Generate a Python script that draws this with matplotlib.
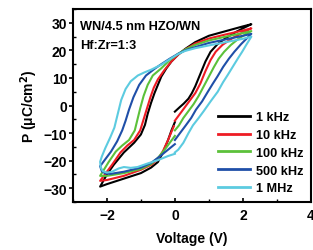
import matplotlib.pyplot as plt
from matplotlib.ticker import MultipleLocator

labels = ['1 kHz', '10 kHz', '100 kHz', '500 kHz', '1 MHz']
colors = ['#000000', '#ee1c24', '#5cc13a', '#1f4fa8', '#5ccbe0']

# each loop: start at 0 V -> +Vmax, upper branch -> -Vmax, lower branch -> 0 V
v_1k = [0, 0.15, 0.26, 0.4, 0.5, 0.6, 0.75, 0.9, 1.05, 1.25, 1.5, 1.8, 2.05, 2.25,
        2.0, 1.5, 1.0, 0.6, 0.3, 0.1, -0.1, -0.25, -0.4, -0.5, -0.6, -0.7, -0.8,
        -0.88, -1.0, -1.2, -1.5, -1.8, -2.0, -2.2,
        -2.0, -1.5, -1.0, -0.7, -0.5, -0.35, -0.2, -0.1, 0]
p_1k = [-2.2, -0.5, 0.7, 2.5, 4.5, 7, 11.5, 16, 19.5, 22.2, 24.5, 26.7, 28.3, 29.5,
        28.7, 27, 25.3, 23, 20.5, 18.5, 16, 13.5, 10.5, 7.5, 4.5, 1, -3,
        -7, -10.5, -13.5, -17, -21.5, -25, -29.4,
        -28.5, -26.5, -24.5, -22.5, -20.5, -17, -12.5, -9, -6]

v_10k = [0, 0.15, 0.3, 0.45, 0.6, 0.75, 0.9, 1.05, 1.2, 1.4, 1.7, 2.0, 2.25,
         2.0, 1.5, 1.0, 0.6, 0.3, 0.1, -0.1, -0.3, -0.5, -0.62, -0.72, -0.82,
         -0.92, -1.02, -1.2, -1.4, -1.6, -1.85, -2.0, -2.2,
         -2.0, -1.5, -1.0, -0.7, -0.5, -0.35, -0.2, -0.1, -0.03]
p_10k = [-5.5, -3, -0.5, 2, 4.5, 8, 12.5, 16.5, 19.5, 22, 24.5, 26.5, 28,
         27.2, 25.8, 24.3, 22.5, 20.3, 18.5, 16, 13, 9.5, 6.5, 3, -1,
         -5, -9, -12.5, -14.5, -17, -21.5, -24, -27.3,
         -27, -25.5, -23.3, -21.5, -19.5, -16.5, -12.5, -9.5, -7.5]

v_100k = [0, 0.12, 0.25, 0.4, 0.55, 0.7, 0.85, 1.0, 1.15, 1.29, 1.45, 1.65, 1.9, 2.25,
          2.0, 1.5, 1.0, 0.6, 0.3, 0.1, -0.15, -0.4, -0.65, -0.8, -0.92, -1.02,
          -1.1, -1.18, -1.35, -1.55, -1.74, -1.95, -2.2,
          -2.0, -1.5, -1.0, -0.7, -0.5, -0.3, -0.15, 0]
p_100k = [-9, -7.2, -4.5, -2, 0.5, 3.5, 7, 10.5, 14, 17, 19.5, 22, 24.5, 27,
          26.3, 25, 23.6, 22, 20.3, 18.8, 16.5, 13.5, 10.9, 7.5, 3.5, -1,
          -5, -9, -12.5, -14.5, -16.7, -20.5, -25.5,
          -25.5, -24.5, -23, -21.2, -19, -16, -13.5, -11]

v_500k = [0, 0.15, 0.32, 0.48, 0.62, 0.8, 0.97, 1.12, 1.25, 1.42, 1.59, 1.75, 1.95, 2.25,
          2.0, 1.5, 1.0, 0.6, 0.3, 0.1, -0.15, -0.4, -0.6, -0.85, -1.05, -1.22,
          -1.35, -1.45, -1.55, -1.7, -1.88, -2.05, -2.2,
          -2.15, -2.05, -1.9, -1.5, -1.0, -0.7, -0.45, -0.25, -0.1, 0]
p_500k = [-12.5, -10, -7.2, -4.5, -1.5, 1.5, 5, 8, 10.5, 14, 17, 19.5, 22.3, 26,
          25.3, 24, 22.7, 21.2, 20, 18.8, 17, 15, 13.3, 10.9, 7.5, 3,
          -1.5, -5.5, -9, -13, -16.7, -19.5, -22,
          -23.8, -24.6, -24.8, -24, -22.5, -20.8, -18.5, -16.5, -15, -14]

v_1m = [0, 0.1, 0.25, 0.4, 0.53, 0.7, 0.85, 1.05, 1.26, 1.42, 1.55, 1.7, 1.85, 1.98, 2.1, 2.25,
        2.0, 1.5, 1.0, 0.6, 0.3, 0.1, -0.15, -0.4, -0.7, -0.9, -1.09, -1.3, -1.45,
        -1.58, -1.68, -1.78, -1.9, -2.05, -2.15, -2.2,
        -2.18, -2.12, -2.0, -1.85, -1.65, -1.5, -1.3, -1.1, -0.8, -0.5, -0.2, 0]
p_1m = [-17, -16, -13.5, -10, -7.2, -4.5, -2, 1.5, 5, 8.5, 11, 14, 17, 19.5, 22, 25,
        24.2, 23, 21.8, 20.8, 19.8, 18.7, 16.8, 14.8, 13, 12, 10.9, 8.8, 6,
        2, -3, -8, -11.5, -15.5, -18.5, -20.4,
        -22.5, -23.8, -24.3, -24, -22.8, -22.3, -22.6, -22.3, -21, -19.8, -18.3, -17.5]

volts = [v_1k, v_10k, v_100k, v_500k, v_1m]
pols = [p_1k, p_10k, p_100k, p_500k, p_1m]

plt.rcParams['font.family'] = ['Liberation Sans', 'DejaVu Sans']
plt.rcParams['font.weight'] = 'bold'

fig = plt.figure(figsize=(3.13, 2.51), dpi=100)
ax = fig.add_axes([0.233, 0.191, 0.760, 0.769])

for v, p, c, lab in zip(volts, pols, colors, labels):
    ax.plot(v, p, color=c, linewidth=1.5, label=lab, solid_joinstyle='round')

ax.set_xlim(-3, 4)
ax.set_ylim(-35, 35)
ax.xaxis.set_major_locator(MultipleLocator(2))
ax.xaxis.set_minor_locator(MultipleLocator(1))
ax.yaxis.set_major_locator(MultipleLocator(10))
ax.yaxis.set_minor_locator(MultipleLocator(5))
ax.tick_params(axis='x', which='major', direction='in', length=3, width=1.2, labelsize=10, pad=4)
ax.tick_params(axis='x', which='minor', direction='in', length=2, width=1)
ax.tick_params(axis='y', which='major', direction='out', length=3, width=1.2, labelsize=10, pad=1)
ax.tick_params(axis='y', which='minor', direction='in', length=2, width=1)
for s in ax.spines.values():
    s.set_linewidth(1.5)
for t in ax.get_xticklabels() + ax.get_yticklabels():
    t.set_fontweight('bold')

ax.set_xlabel('Voltage (V)', fontsize=10, fontweight='bold', labelpad=7)
ax.set_ylabel('P (μC/cm$^\\mathbf{2}$)', fontsize=10, fontweight='bold', labelpad=3)

ax.text(0.03, 0.945, 'WN/4.5 nm HZO/WN', transform=ax.transAxes, fontsize=9.2,
        fontweight='bold', va='top')
ax.text(0.03, 0.845, 'Hf:Zr=1:3', transform=ax.transAxes, fontsize=9.2,
        fontweight='bold', va='top')

leg = ax.legend(loc='lower right', frameon=False, fontsize=9.2, handlelength=2.5,
                handletextpad=0.45, labelspacing=0.45, borderaxespad=0.3,
                borderpad=0.3)
for t in leg.get_texts():
    t.set_fontweight('bold')
for h in leg.get_lines():
    h.set_linewidth(2)

fig.savefig('out.png', dpi=100)
